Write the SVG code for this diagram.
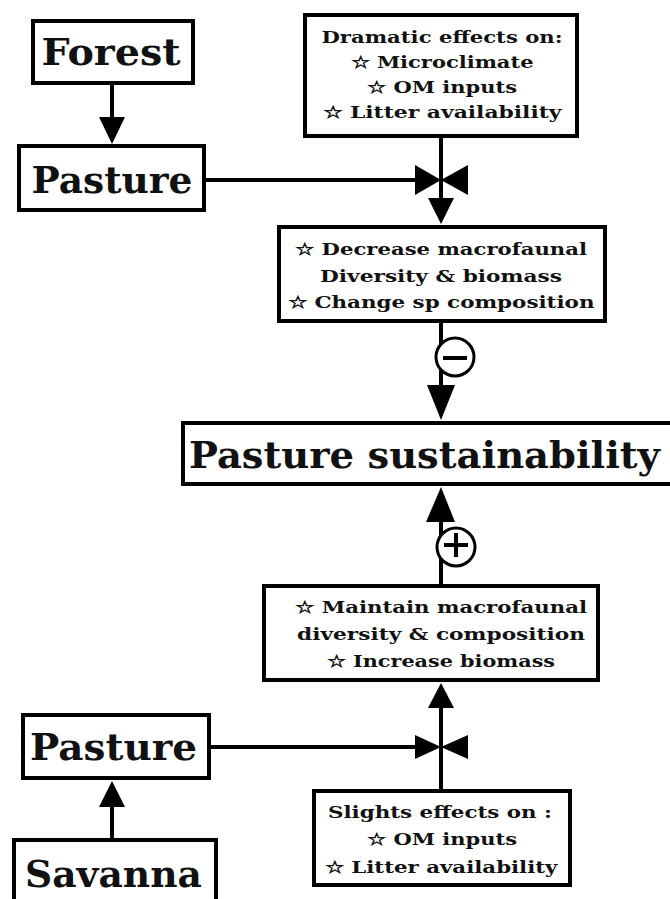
<svg xmlns="http://www.w3.org/2000/svg" width="670" height="899" viewBox="0 0 670 899">
<style>
.box{fill:#fff;stroke:#000;stroke-width:4}
.big{font-family:"DejaVu Serif","Liberation Serif",serif;font-weight:bold;font-size:37px;fill:#111;text-anchor:middle}
.sm{font-family:"DejaVu Serif","Liberation Serif",serif;font-weight:bold;font-size:16.5px;fill:#111;text-anchor:middle}
.ln{stroke:#000;stroke-width:4;fill:none}
.ah{fill:#000}
.sg{fill:#fff;stroke:#000;stroke-width:3}
</style>
<rect width="670" height="899" fill="#fff"/>
<g id="connectors">
  <line class="ln" x1="112" y1="85" x2="112" y2="130"/>
  <polygon class="ah" points="99,117 125,117 112,144"/>
  <line class="ln" x1="206" y1="180" x2="430" y2="180"/>
  <polygon class="ah" points="415,165 415,195 441,180"/>
  <polygon class="ah" points="468,165 468,195 441,180"/>
  <line class="ln" x1="441" y1="138" x2="441" y2="210"/>
  <polygon class="ah" points="428,198 454,198 441,224"/>
  <line class="ln" x1="441" y1="323" x2="441" y2="400"/>
  <polygon class="ah" points="427,385 455,385 441,420"/>
  <circle class="sg" cx="455" cy="357" r="19"/>
  <line class="ln" x1="443" y1="358" x2="467" y2="358" stroke-width="3"/>
  <line class="ln" x1="441" y1="584" x2="441" y2="505"/>
  <polygon class="ah" points="426,522 455,522 441,487"/>
  <circle class="sg" cx="456" cy="547" r="19"/>
  <line class="ln" x1="444" y1="545" x2="468" y2="545" stroke-width="3"/>
  <line class="ln" x1="456" y1="533" x2="456" y2="557" stroke-width="3"/>
  <line class="ln" x1="441" y1="789" x2="441" y2="695"/>
  <polygon class="ah" points="428,708 454,708 441,683"/>
  <line class="ln" x1="211" y1="747" x2="430" y2="747"/>
  <polygon class="ah" points="415,735 415,759 441,747"/>
  <polygon class="ah" points="468,735 468,759 441,747"/>
  <line class="ln" x1="112" y1="838" x2="112" y2="795"/>
  <polygon class="ah" points="99,807 125,807 112,781"/>
</g>
<g id="forest">
  <rect class="box" x="33" y="21" width="160" height="62"/>
  <text class="big" x="111" y="65" textLength="139" lengthAdjust="spacingAndGlyphs">Forest</text>
</g>
<g id="pasture-top">
  <rect class="box" x="19" y="146" width="185" height="64"/>
  <text class="big" x="112" y="193" textLength="161" lengthAdjust="spacingAndGlyphs">Pasture</text>
</g>
<g id="dramatic">
  <rect class="box" x="305" y="15" width="272" height="121"/>
  <text class="sm" x="442" y="43" textLength="241" lengthAdjust="spacingAndGlyphs">Dramatic effects on:</text>
  <text class="sm" x="442" y="68" textLength="183" lengthAdjust="spacingAndGlyphs">☆ Microclimate</text>
  <text class="sm" x="442" y="93" textLength="150" lengthAdjust="spacingAndGlyphs">☆ OM inputs</text>
  <text class="sm" x="442" y="118" textLength="239" lengthAdjust="spacingAndGlyphs">☆ Litter availability</text>
</g>
<g id="decrease">
  <rect class="box" x="279" y="227" width="326" height="94"/>
  <text class="sm" x="441" y="255" textLength="292" lengthAdjust="spacingAndGlyphs">☆ Decrease macrofaunal</text>
  <text class="sm" x="441" y="282" textLength="242" lengthAdjust="spacingAndGlyphs">Diversity &amp; biomass</text>
  <text class="sm" x="441" y="308" textLength="307" lengthAdjust="spacingAndGlyphs">☆ Change sp composition</text>
</g>
<g id="sustainability">
  <rect class="box" x="183" y="423" width="500" height="61"/>
  <text class="big" x="424.5" y="468" textLength="471" lengthAdjust="spacingAndGlyphs">Pasture sustainability</text>
</g>
<g id="maintain">
  <rect class="box" x="264" y="586" width="334" height="94"/>
  <text class="sm" x="441" y="613" textLength="292" lengthAdjust="spacingAndGlyphs">☆ Maintain macrofaunal</text>
  <text class="sm" x="441" y="640" textLength="288" lengthAdjust="spacingAndGlyphs">diversity &amp; composition</text>
  <text class="sm" x="441" y="667" textLength="228" lengthAdjust="spacingAndGlyphs">☆ Increase biomass</text>
</g>
<g id="pasture-bottom">
  <rect class="box" x="23" y="715" width="186" height="63"/>
  <text class="big" x="113.5" y="760" textLength="167" lengthAdjust="spacingAndGlyphs">Pasture</text>
</g>
<g id="savanna">
  <rect class="box" x="14" y="840" width="202" height="70"/>
  <text class="big" x="113.5" y="887" textLength="177" lengthAdjust="spacingAndGlyphs">Savanna</text>
</g>
<g id="slights">
  <rect class="box" x="314" y="791" width="256" height="94"/>
  <text class="sm" x="440" y="818" textLength="224" lengthAdjust="spacingAndGlyphs">Slights effects on :</text>
  <text class="sm" x="442" y="845" textLength="150" lengthAdjust="spacingAndGlyphs">☆ OM inputs</text>
  <text class="sm" x="441" y="873" textLength="233" lengthAdjust="spacingAndGlyphs">☆ Litter availability</text>
</g>
</svg>
